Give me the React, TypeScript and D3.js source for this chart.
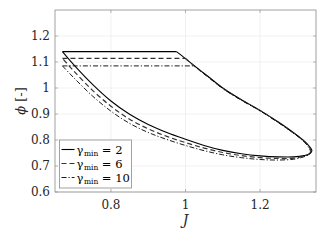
import * as d3 from "d3";

type Pt = [number, number];

// each series: the flat top edge, then the loop from its right end back to the left end

// gamma_min = 2
const topG2: Pt[] = [[0.67, 1.14], [0.976, 1.14]];
const loopG2: Pt[] = [
  [0.976, 1.14], [1.0, 1.113], [1.025, 1.084], [1.06, 1.045], [1.105, 0.995], [1.15, 0.955],
  [1.2, 0.914], [1.25, 0.868], [1.29, 0.828], [1.315, 0.8], [1.332, 0.776],
  [1.339, 0.76], [1.334, 0.748], [1.318, 0.74], [1.29, 0.735], [1.25, 0.735],
  [1.2, 0.739], [1.15, 0.747], [1.1, 0.76], [1.05, 0.779], [1.0, 0.803],
  [0.95, 0.829], [0.9, 0.86], [0.85, 0.899], [0.8, 0.95], [0.75, 1.015],
  [0.7, 1.09], [0.67, 1.14],
];

// gamma_min = 6
const topG6: Pt[] = [[0.67, 1.114], [1.0, 1.114]];
const loopG6: Pt[] = [
  [1.0, 1.114], [1.025, 1.083], [1.06, 1.044], [1.105, 0.994], [1.15, 0.954],
  [1.2, 0.913], [1.25, 0.867], [1.29, 0.827], [1.315, 0.799], [1.331, 0.774],
  [1.337, 0.758], [1.331, 0.745], [1.315, 0.737], [1.29, 0.73], [1.25, 0.729],
  [1.2, 0.732], [1.15, 0.74], [1.1, 0.752], [1.05, 0.769], [1.0, 0.79],
  [0.95, 0.814], [0.9, 0.843], [0.85, 0.88], [0.8, 0.93], [0.75, 0.992],
  [0.7, 1.066], [0.67, 1.114],
];

// gamma_min = 10
const topG10: Pt[] = [[0.67, 1.085], [1.024, 1.085]];
const loopG10: Pt[] = [
  [1.024, 1.085], [1.06, 1.043], [1.105, 0.993], [1.15, 0.953],
  [1.2, 0.912], [1.25, 0.866], [1.29, 0.826], [1.315, 0.798], [1.33, 0.772],
  [1.335, 0.755], [1.328, 0.742], [1.312, 0.733], [1.29, 0.726], [1.25, 0.723],
  [1.2, 0.725], [1.15, 0.732], [1.1, 0.743], [1.05, 0.759], [1.0, 0.779],
  [0.95, 0.802], [0.9, 0.829], [0.85, 0.864], [0.8, 0.911], [0.75, 0.97],
  [0.7, 1.04], [0.67, 1.085],
];

const legendLabels = ["2", "6", "10"];
const xTicks = [0.8, 1, 1.2];
const yTicks = [0.6, 0.7, 0.8, 0.9, 1, 1.1, 1.2];

const W = 327;
const H = 245;
const margin = { top: 10, right: 11, bottom: 53, left: 55 };
const innerW = W - margin.left - margin.right;
const innerH = H - margin.top - margin.bottom;

const styles = [
  { top: topG2, loop: loopG2, dash: "none", width: 1.1, color: "#000" },
  { top: topG6, loop: loopG6, dash: "5,3", width: 1.2, color: "#333" },
  { top: topG10, loop: loopG10, dash: "5,2,1.2,2", width: 0.9, color: "#000" },
];

const serif = { fontFamily: "\"DejaVu Serif\", \"Liberation Serif\", serif" };

export default function App() {
  const x = d3.scaleLinear().domain([0.65, 1.35]).range([0, innerW]);
  const y = d3.scaleLinear().domain([0.6, 1.3]).range([innerH, 0]);

  const straight = d3.line<Pt>().x(d => x(d[0])).y(d => y(d[1]));
  const smooth = d3.line<Pt>()
    .x(d => x(d[0]))
    .y(d => y(d[1]))
    .curve(d3.curveCatmullRom.alpha(0.5));

  const axisColor = "#262626";
  const frame = "#8a8a8a";
  const lg = { x: 4.5, y: 130, w: 72, h: 48 };

  return (
    <svg width={W} height={H} style={{ position: "absolute", left: 0, top: 0, ...serif }}>
      <rect width={W} height={H} fill="#fff" />
      <g transform={`translate(${margin.left},${margin.top})`}>
        {xTicks.map(t => (
          <line key={"gx" + t} x1={x(t)} x2={x(t)} y1={0} y2={innerH} stroke="#e8e8e8" strokeWidth={0.6} />
        ))}
        {yTicks.map(t => (
          <line key={"gy" + t} x1={0} x2={innerW} y1={y(t)} y2={y(t)} stroke="#e8e8e8" strokeWidth={0.6} />
        ))}

        {styles.map((s, i) => (
          <g key={i} fill="none" stroke={s.color} strokeWidth={s.width} strokeDasharray={s.dash}>
            <path d={straight(s.top) ?? ""} />
            <path d={smooth(s.loop) ?? ""} />
          </g>
        ))}

        <rect x={0} y={0} width={innerW} height={innerH} fill="none" stroke={frame} strokeWidth={0.8} />

        {xTicks.map(t => (
          <g key={"tx" + t}>
            <line x1={x(t)} x2={x(t)} y1={innerH} y2={innerH - 3} stroke={frame} strokeWidth={0.6} />
            <line x1={x(t)} x2={x(t)} y1={0} y2={3} stroke={frame} strokeWidth={0.6} />
            <text x={x(t)} y={innerH + 17} textAnchor="middle" style={serif} fontSize={12} fill={axisColor}>
              {d3.format("")(t)}
            </text>
          </g>
        ))}
        {yTicks.map(t => (
          <g key={"ty" + t}>
            <line x1={0} x2={3} y1={y(t)} y2={y(t)} stroke={frame} strokeWidth={0.6} />
            <line x1={innerW} x2={innerW - 3} y1={y(t)} y2={y(t)} stroke={frame} strokeWidth={0.6} />
            <text x={-5} y={y(t)} dy="0.35em" textAnchor="end" style={serif} fontSize={12} fill={axisColor}>
              {d3.format("")(t)}
            </text>
          </g>
        ))}

        <text x={innerW / 2} y={innerH + 33} textAnchor="middle" style={serif} fontStyle="italic"
          fontSize={14} fill={axisColor}>J</text>
        <text transform={`translate(${-30},${innerH / 2}) rotate(-90)`} textAnchor="middle"
          style={serif} fontSize={13} fill={axisColor}>
          <tspan fontStyle="italic">ϕ</tspan> [-]
        </text>

        <g transform={`translate(${lg.x},${lg.y})`}>
          <rect width={lg.w} height={lg.h} fill="#fff" stroke={frame} strokeWidth={0.8} />
          {styles.map((s, i) => {
            const cy = 9.5 + i * 14;
            return (
              <g key={"lg" + i}>
                <line x1={2} x2={15} y1={cy} y2={cy} stroke={s.color} strokeWidth={s.width}
                  strokeDasharray={s.dash} />
                <text x={17} y={cy} dy="0.35em" style={serif} fontSize={11.5} fill="#000">
                  γ<tspan fontSize={7.5} dx={0.5} dy="2">min</tspan>
                  <tspan dy="-2"> = {legendLabels[i]}</tspan>
                </text>
              </g>
            );
          })}
        </g>
      </g>
    </svg>
  );
}
